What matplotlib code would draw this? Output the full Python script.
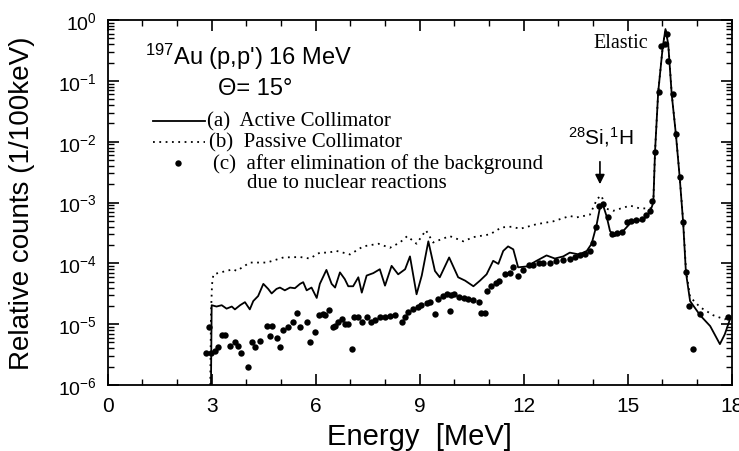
import numpy as np
import matplotlib.pyplot as plt
from matplotlib.ticker import MultipleLocator

# energie en MeV, comptages relatifs (1/100 keV)
active_e = [2.98, 3.0, 3.14, 3.29, 3.43, 3.58, 3.67, 3.82, 3.96, 4.1,
            4.2, 4.34, 4.49, 4.63, 4.73, 4.87, 4.97, 5.11, 5.26, 5.4,
            5.55, 5.64, 5.74, 5.88, 6.03, 6.12, 6.31, 6.46, 6.56, 6.7,
            6.84, 6.94, 7.08, 7.23, 7.33, 7.47, 7.66, 7.85, 8.0, 8.19,
            8.38, 8.58, 8.72, 8.91, 9.06, 9.25, 9.44, 9.58, 9.85, 10.11,
            10.31, 10.55, 10.74, 10.93, 11.12, 11.27, 11.41, 11.55, 11.7, 11.84,
            12.09, 12.37, 12.66, 12.9, 13.14, 13.33, 13.6, 13.82, 13.96, 14.1,
            14.2, 14.28, 14.39, 14.49, 14.63, 14.87, 15.11, 15.45, 15.64, 15.74,
            15.79, 15.88, 16.01, 16.09, 16.17, 16.27, 16.39, 16.5, 16.6, 16.68,
            16.8, 17.09, 17.38, 17.66, 17.8, 17.95]
active_y = [1e-6, 2.05e-5, 1.95e-5, 2.05e-5, 1.8e-5, 1.95e-5, 1.75e-5, 2.05e-5, 2.3e-5, 1.75e-5,
            2.4e-5, 2.9e-5, 4.6e-5, 3.8e-5, 3.2e-5, 3.8e-5, 4.0e-5, 3.6e-5, 4.0e-5, 3.9e-5,
            4.6e-5, 4.9e-5, 3.6e-5, 4.0e-5, 2.7e-5, 4.6e-5, 7.8e-5, 4.6e-5, 4.0e-5, 7.1e-5,
            5.5e-5, 4.2e-5, 4.2e-5, 5.9e-5, 3.3e-5, 6.3e-5, 6.9e-5, 8.0e-5, 4.3e-5, 9.1e-5,
            6.6e-5, 8.0e-5, 1.3e-4, 3.1e-5, 6.3e-5, 2.3e-4, 7.5e-5, 5.9e-5, 1.25e-4, 5.9e-5,
            5.2e-5, 4.2e-5, 5.2e-5, 6.6e-5, 1.1e-4, 9.8e-5, 1.6e-4, 1.9e-4, 1.7e-4, 8.6e-5,
            8.9e-5, 1.1e-4, 1.35e-4, 1.2e-4, 1.3e-4, 1.5e-4, 1.4e-4, 1.6e-4, 2.1e-4, 4.2e-4,
            8.3e-4, 9.4e-4, 6e-4, 3.4e-4, 2.8e-4, 3.4e-4, 4.8e-4, 5.2e-4, 6.9e-4, 1e-3,
            7.1e-3, 6.5e-2, 0.355, 0.71, 0.40, 6e-2, 1.33e-2, 2.6e-3, 4.7e-4, 7.1e-5,
            2.4e-5, 1.4e-5, 9.3e-6, 4.7e-6, 6.8e-6, 1.2e-5]

passive_e = [2.96, 2.98, 3.01, 3.05, 3.3, 3.62, 3.72, 4.1, 4.59, 5.07,
             5.55, 5.83, 6.12, 6.36, 6.6, 6.99, 7.37, 7.81, 8.14, 8.43,
             8.64, 8.91, 9.18, 9.39, 9.63, 9.87, 10.26, 10.55, 11.03, 11.36,
             11.65, 11.9, 12.37, 12.85, 13.33, 13.53, 13.91, 14.12, 14.24, 14.39,
             14.58, 15.07, 15.35, 15.66, 15.74, 15.79, 15.88, 16.01, 16.09, 16.17,
             16.27, 16.39, 16.5, 16.6, 16.68, 16.8, 17.09, 17.47, 17.8, 17.95]
passive_y = [1e-6, 1.5e-5, 4.5e-5, 6.6e-5, 7.2e-5, 8e-5, 7.5e-5, 1.03e-4, 1.03e-4, 1.25e-4,
             1.27e-4, 1.2e-4, 1.5e-4, 1.5e-4, 1.6e-4, 1.4e-4, 1.9e-4, 2.1e-4, 1.8e-4, 2.2e-4,
             2.8e-4, 2.1e-4, 3.5e-4, 2.2e-4, 2.5e-4, 2.8e-4, 2.3e-4, 2.7e-4, 3e-4, 3.9e-4,
             4e-4, 3.7e-4, 4.4e-4, 4.9e-4, 6e-4, 5.7e-4, 6.3e-4, 1.15e-3, 1.3e-3, 7.9e-4,
             7.3e-4, 8.9e-4, 8e-4, 8e-4, 1.05e-3, 7.1e-3, 6.5e-2, 0.36, 0.72, 0.41,
             6.2e-2, 1.35e-2, 2.7e-3, 5e-4, 8e-5, 2.8e-5, 1.9e-5, 1.4e-5, 1.2e-5, 1.4e-5]

dots_e = [2.85, 2.93, 2.97, 3.1, 3.19, 3.3, 3.38, 3.53, 3.67, 3.77,
          3.86, 4.06, 4.15, 4.25, 4.39, 4.59, 4.68, 4.73, 4.87, 4.97,
          5.07, 5.21, 5.36, 5.45, 5.55, 5.74, 5.83, 5.98, 6.1, 6.2,
          6.27, 6.39, 6.5, 6.56, 6.65, 6.75, 6.85, 6.92, 7.04, 7.1,
          7.23, 7.33, 7.47, 7.6, 7.7, 7.85, 8.0, 8.14, 8.3, 8.48,
          8.58, 8.67, 8.8, 8.95, 9.05, 9.2, 9.3, 9.44, 9.53, 9.67,
          9.8, 9.9, 9.87, 10.0, 10.12, 10.27, 10.4, 10.55, 10.7, 10.78,
          10.87, 10.93, 11.07, 11.2, 11.3, 11.46, 11.6, 11.7, 11.84, 11.99,
          12.14, 12.28, 12.43, 12.56, 12.75, 12.94, 13.14, 13.33, 13.48, 13.62,
          13.76, 13.9, 14.0, 14.1, 14.18, 14.3, 14.42, 14.55, 14.7, 14.83,
          14.97, 15.11, 15.25, 15.4, 15.54, 15.64, 15.7, 15.79, 15.91, 15.96,
          16.07, 16.12, 16.17, 16.3, 16.39, 16.5, 16.6, 16.68, 16.77, 16.87,
          17.09, 17.9]
dots_y = [3.4e-6, 8.9e-6, 3.4e-6, 3.6e-6, 4.2e-6, 6.6e-6, 6.6e-6, 4.4e-6, 5e-6, 4.4e-6,
          3.4e-6, 2.0e-6, 5e-6, 4.2e-6, 5.3e-6, 9.3e-6, 6.4e-6, 9.3e-6, 6e-6, 4.2e-6,
          8.1e-6, 8.9e-6, 1.1e-5, 1.55e-5, 8.9e-6, 1.1e-5, 5e-6, 7.3e-6, 1.4e-5, 1.45e-5,
          1.4e-5, 1.7e-5, 9e-6, 9.5e-6, 1.1e-5, 1.2e-5, 1e-5, 1.0e-5, 3.9e-6, 1.3e-5,
          1.3e-5, 1.1e-5, 1.3e-5, 1.1e-5, 1.15e-5, 1.3e-5, 1.3e-5, 1.35e-5, 1.4e-5, 1.1e-5,
          1.3e-5, 1.6e-5, 1.8e-5, 1.9e-5, 2.1e-5, 2.2e-5, 2.3e-5, 1.45e-5, 2.6e-5, 2.9e-5,
          3.1e-5, 3.0e-5, 1.65e-5, 3.1e-5, 2.8e-5, 2.7e-5, 2.6e-5, 2.5e-5, 2.3e-5, 1.5e-5,
          1.5e-5, 3.5e-5, 4.3e-5, 4.8e-5, 5.2e-5, 6.6e-5, 6.9e-5, 8.6e-5, 6.1e-5, 7.7e-5,
          9.3e-5, 9.5e-5, 1.0e-4, 1.0e-4, 1.0e-4, 1.1e-4, 1.15e-4, 1.2e-4, 1.25e-4, 1.35e-4,
          1.45e-4, 1.6e-4, 2.2e-4, 3.9e-4, 8.8e-4, 9.4e-4, 5.7e-4, 3.0e-4, 3.1e-4, 3.3e-4,
          4.8e-4, 5.0e-4, 5.1e-4, 5.3e-4, 6.3e-4, 7.3e-4, 1.05e-3, 6.7e-3, 6.5e-2, 0.38,
          0.40, 0.6, 0.21, 6e-2, 1.33e-2, 2.6e-3, 4.7e-4, 7.1e-5, 2e-5, 3.9e-6,
          1.45e-5, 1.3e-5]

x_ticks = [0, 3, 6, 9, 12, 15, 18]

plt.rcParams['font.family'] = 'Liberation Sans'
plt.rcParams['mathtext.fontset'] = 'custom'
plt.rcParams['mathtext.rm'] = 'Liberation Sans'
plt.rcParams['mathtext.it'] = 'Liberation Sans:italic'
plt.rcParams['mathtext.bf'] = 'Liberation Sans:bold'
plt.rcParams['mathtext.default'] = 'regular'

fig = plt.figure(figsize=(7.39, 4.52), dpi=100)
ax = fig.add_axes([0.1457, 0.146, 0.8444, 0.8075])

dotted = (0, (1, 2.5))
ax.plot(passive_e, passive_y, color='k', lw=1.3, ls=dotted)
ax.plot(active_e, active_y, color='k', lw=1.3)
ax.plot(dots_e, dots_y, 'o', color='k', ms=4.6, mec='none')

ax.set_yscale('log')
ax.set_ylim(1e-6, 1)
ax.set_xlim(0, 18)
ax.set_xticks(x_ticks)
ax.xaxis.set_minor_locator(MultipleLocator(1))
ax.tick_params(which='both', direction='in', top=True, right=True)
ax.tick_params(which='major', length=8, width=1.2)
ax.tick_params(which='minor', length=4, width=1)
ax.tick_params(axis='x', labelsize=15, pad=8)
ax.tick_params(axis='y', labelsize=14, pad=8)
for s in ax.spines.values():
    s.set_linewidth(1.3)

ax.set_xlabel('Energy  [MeV]', fontsize=21, labelpad=5)
ax.set_ylabel('Relative counts (1/100keV)', fontsize=20, labelpad=16)

# titre et legende
ax.text(1.08, 0.189, r"$^{197}$Au (p,p') 16 MeV", fontsize=17, va='baseline')
ax.text(3.18, 0.0607, 'Θ= 15°', fontsize=17, va='baseline')

serif = 'Liberation Serif'
ax.plot([1.3, 2.8], [0.022, 0.022], color='k', lw=1.3)
ax.text(2.87, 0.022, '(a)  Active Collimator', family=serif, fontsize=15, va='center')
ax.plot([1.3, 2.8], [0.0099, 0.0099], color='k', lw=1.3, ls=dotted)
ax.text(2.93, 0.0099, '(b)  Passive Collimator', family=serif, fontsize=15, va='center')
ax.plot([2.03], [4.4e-3], 'o', color='k', ms=4.6, mec='none')
ax.text(3.04, 4.4e-3, '(c)  after elimination of the background', family=serif, fontsize=15, va='center')
ax.text(4.02, 2.1e-3, 'due to nuclear reactions', family=serif, fontsize=15, va='center')

ax.text(15.58, 0.43, 'Elastic', family=serif, fontsize=14.5, ha='right', va='center')
ax.text(13.28, 9.5e-3, r'$^{28}$Si,$^{1}$H', fontsize=15, va='baseline')
ax.annotate('', xy=(14.2, 1.8e-3), xytext=(14.2, 5.2e-3),
            arrowprops=dict(arrowstyle='-|>', color='k', lw=1.2, mutation_scale=14))

fig.savefig('out.png', dpi=100)
